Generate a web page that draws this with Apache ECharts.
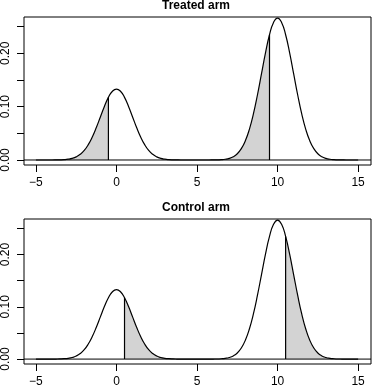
<!DOCTYPE html>
<html>
<head>
<meta charset="utf-8">
<script src="https://cdn.jsdelivr.net/npm/echarts@6/dist/echarts.min.js"></script>
<style>
  html, body { margin: 0; padding: 0; background: #fff; }
  #main { width: 372px; height: 388px; }
</style>
</head>
<body>
<div id="main"></div>
<script>
// density curve (same curve in both panels)
const densityX = [
  -5, -4.75, -4.5, -4.25, -4, -3.75, -3.5, -3.25, -3, -2.75, -2.5, -2.25, -2, -1.75, -1.5, -1.25,
  -1, -0.75, -0.5, -0.25, 0, 0.25, 0.5, 0.75, 1, 1.25, 1.5, 1.75, 2, 2.25, 2.5, 2.75,
  3, 3.25, 3.5, 3.75, 4, 4.25, 4.5, 4.75, 5, 5.25, 5.5, 5.75, 6, 6.25, 6.5, 6.75,
  7, 7.25, 7.5, 7.75, 8, 8.25, 8.5, 8.75, 9, 9.25, 9.5, 9.75, 10, 10.25, 10.5, 10.75,
  11, 11.25, 11.5, 11.75, 12, 12.25, 12.5, 12.75, 13, 13.25, 13.5, 13.75, 14, 14.25, 14.5, 14.75, 15
];
const densityY = [
  0, 0, 0, 0, 0, 0.0001, 0.0003, 0.0007, 0.0015, 0.0030, 0.0058, 0.0106, 0.0180, 0.0288, 0.0432, 0.0609,
  0.0807, 0.1004, 0.1174, 0.1289, 0.1330, 0.1289, 0.1174, 0.1004, 0.0807, 0.0609, 0.0432, 0.0288, 0.0180, 0.0106, 0.0058, 0.0030,
  0.0015, 0.0007, 0.0003, 0.0001, 0, 0, 0, 0, 0, 0, 0, 0, 0.0001, 0.0002, 0.0006, 0.0014,
  0.0030, 0.0061, 0.0117, 0.0212, 0.0360, 0.0575, 0.0863, 0.1218, 0.1613, 0.2008, 0.2347, 0.2578, 0.2660, 0.2578, 0.2347, 0.2008,
  0.1613, 0.1218, 0.0863, 0.0575, 0.0360, 0.0212, 0.0117, 0.0061, 0.0030, 0.0014, 0.0006, 0.0002, 0.0001, 0, 0, 0, 0
];

const panelTitles = ["Treated arm", "Control arm"];
// shaded ranges and cut-off lines for each panel
const treatedShade = [[-5, -0.5], [5, 9.5]];
const controlShade = [[0.5, 5], [10.5, 15]];
const treatedCuts = [-0.5, 9.5];
const controlCuts = [0.5, 10.5];

const xTicks = [-5, 0, 5, 10, 15];
const yTicks = [0, 0.05, 0.1, 0.15, 0.2, 0.25];
const yLabels = [0, 0.1, 0.2];

// axis ranges (R pads 4% each side)
const xMin = -5.74, xMax = 15.8;
const yMin = -0.0094, yMax = 0.268;

const curve = densityX.map((x, i) => [x, densityY[i]]);
function yAt(x) {
  return densityY[densityX.indexOf(x)];
}

const chart = echarts.init(document.getElementById("main"));
const font = "'Liberation Sans', Arial, Helvetica, sans-serif";

const grids = [
  { left: 21, top: 17, width: 350, height: 148 },
  { left: 21, top: 219, width: 350, height: 148 }
];

let series = [];
function addPanel(idx, shades, cuts) {
  shades.forEach(r => {
    series.push({
      type: "line", xAxisIndex: idx, yAxisIndex: idx,
      data: curve.filter(p => p[0] >= r[0] && p[0] <= r[1]),
      smooth: true, showSymbol: false, silent: true,
      lineStyle: { width: 0 },
      areaStyle: { color: "#d3d3d3", opacity: 1 },
      z: 1
    });
  });
  // abline(h = 0) across the whole plot region
  series.push({
    type: "line", xAxisIndex: idx, yAxisIndex: idx,
    data: [[xMin, 0], [xMax, 0]],
    showSymbol: false, silent: true,
    lineStyle: { color: "#000", width: 1 },
    z: 2
  });
  series.push({
    type: "line", xAxisIndex: idx, yAxisIndex: idx,
    data: curve, smooth: true, showSymbol: false, silent: true,
    lineStyle: { color: "#000", width: 1.2 },
    z: 3
  });
  cuts.forEach(c => {
    series.push({
      type: "line", xAxisIndex: idx, yAxisIndex: idx,
      data: [[c, 0], [c, yAt(c)]],
      showSymbol: false, silent: true,
      lineStyle: { color: "#000", width: 1.2 },
      z: 3
    });
  });
}
addPanel(0, treatedShade, treatedCuts);
addPanel(1, controlShade, controlCuts);

const option = {
  animation: false,
  backgroundColor: "#fff",
  title: [
    { text: panelTitles[0], left: 196, top: 0, textAlign: "center", padding: 0,
      textStyle: { fontFamily: font, fontSize: 12, fontWeight: "bold", color: "#000" } },
    { text: panelTitles[1], left: 196, top: 202, textAlign: "center", padding: 0,
      textStyle: { fontFamily: font, fontSize: 12, fontWeight: "bold", color: "#000" } }
  ],
  grid: grids.map(g => Object.assign({ show: true, borderColor: "#000", borderWidth: 1, backgroundColor: "transparent" }, g)),
  xAxis: [0, 1].map(i => ({
    type: "value", gridIndex: i, min: xMin, max: xMax,
    axisLine: { show: false, onZero: false },
    splitLine: { show: false },
    axisTick: { show: true, inside: false, length: 7, customValues: xTicks, lineStyle: { color: "#000" } },
    axisLabel: {
      customValues: xTicks, margin: 12, color: "#000", fontFamily: font, fontSize: 12,
      formatter: v => String(v).replace("-", "\u2212")
    }
  })),
  yAxis: [0, 1].map(i => ({
    type: "value", gridIndex: i, min: yMin, max: yMax,
    axisLine: { show: false, onZero: false },
    splitLine: { show: false },
    axisTick: { show: true, inside: false, length: 7, customValues: yTicks, lineStyle: { color: "#000" } },
    axisLabel: {
      customValues: yLabels, rotate: 90, margin: 12, color: "#000", fontFamily: font, fontSize: 12,
      formatter: v => v.toFixed(2)
    }
  })),
  series: series
};
chart.setOption(option);
</script>
</body>
</html>
